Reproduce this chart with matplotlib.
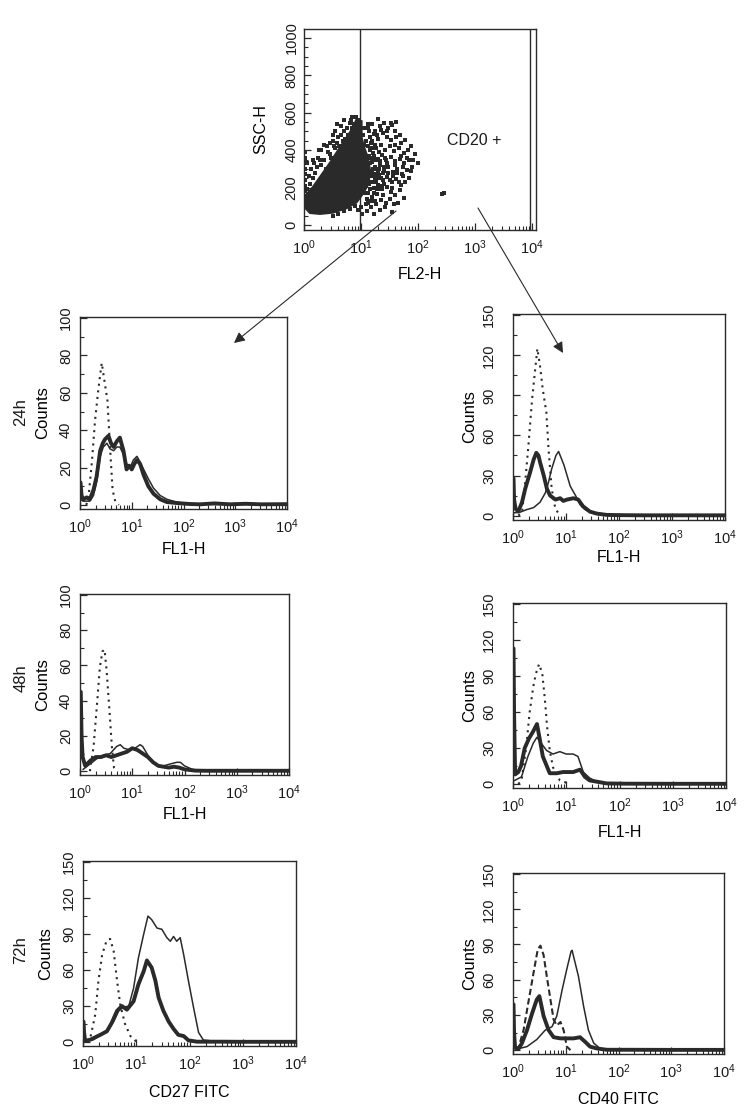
import numpy as np
import matplotlib
matplotlib.use("Agg")
import matplotlib.pyplot as plt
from matplotlib.ticker import FixedLocator, LogLocator, MultipleLocator, NullFormatter

plt.rcParams["font.family"] = ["Liberation Sans", "DejaVu Sans"]
plt.rcParams["mathtext.fontset"] = "custom"
plt.rcParams["mathtext.rm"] = "Liberation Sans"

INK = "#2a2a2a"
W, H = 748, 1113

# ---- dot plot SSC-H vs FL2-H (FL2 stored as log10) ----
core_x = [0.0, 0.105, 0.28, 0.51, 0.75, 0.92, 1.04, 1.13, 1.16, 1.12, 1.05, 1.01, 1.01, 0.92,
          0.86, 0.75, 0.62, 0.45, 0.3, 0.15, 0.0]
core_y = [98, 64, 59, 66, 90, 120, 170, 220, 290, 360, 420, 470, 555, 565,
          520, 470, 410, 330, 265, 200, 150]
halo = [(1.12, 520), (1.2, 540), (1.25, 505), (1.33, 530), (1.4, 545), (1.48, 520), (1.55, 535),
        (1.6, 505), (1.15, 470), (1.22, 485), (1.3, 460), (1.38, 490), (1.45, 470), (1.52, 455),
        (1.62, 470), (1.7, 440), (1.12, 420), (1.18, 440), (1.27, 410), (1.35, 430), (1.42, 400),
        (1.5, 420), (1.58, 395), (1.66, 410), (1.75, 385), (1.82, 400), (1.14, 370), (1.21, 385),
        (1.29, 355), (1.37, 375), (1.44, 345), (1.52, 365), (1.6, 340), (1.68, 355), (1.76, 330),
        (1.85, 345), (1.13, 320), (1.2, 335), (1.27, 300), (1.34, 320), (1.41, 290), (1.48, 310),
        (1.56, 285), (1.63, 300), (1.72, 275), (1.8, 295), (1.9, 310), (1.12, 270), (1.19, 285),
        (1.25, 250), (1.32, 265), (1.39, 240), (1.46, 255), (1.54, 230), (1.62, 245), (1.7, 215),
        (1.78, 230), (1.14, 220), (1.22, 200), (1.3, 215), (1.37, 190), (1.45, 205), (1.52, 175),
        (1.6, 160), (1.68, 185), (1.76, 145), (1.12, 170), (1.2, 150), (1.28, 165), (1.35, 135),
        (1.43, 120), (1.5, 140), (1.58, 110), (1.12, 120), (1.18, 95), (1.26, 110), (1.33, 80),
        (1.42, 95), (1.1, 75), (1.22, 60), (1.65, 120), (1.55, 70), (1.85, 250), (2.0, 330),
        (1.95, 380), (2.42, 165), (2.45, 170),
        (1.03, 480), (1.06, 430), (1.04, 390), (1.08, 350), (1.05, 320), (1.1, 300), (1.07, 260),
        (1.12, 240), (1.09, 210), (1.05, 170), (1.1, 140), (1.08, 110), (1.15, 190), (1.17, 260),
        (1.16, 330), (1.18, 360), (1.16, 400), (1.2, 450), (1.24, 430), (1.23, 370), (1.25, 310),
        (1.24, 270), (1.26, 230), (1.28, 190), (1.25, 130), (1.31, 390), (1.33, 340), (1.3, 280),
        (1.35, 250), (1.36, 210), (1.38, 160), (1.4, 310), (1.42, 360), (1.46, 330), (1.47, 280),
        (1.5, 240), (1.55, 200), (1.57, 260), (1.59, 320), (1.64, 280), (1.67, 230), (1.73, 310),
        (1.74, 260), (1.8, 360), (1.7, 370), (1.88, 290), (1.92, 350), (1.6, 425), (1.68, 480),
        (1.77, 455), (1.88, 420), (1.35, 510), (1.45, 500), (1.28, 480), (1.13, 540), (1.05, 520),
        (1.3, 565), (1.52, 545), (1.62, 550),
        (1.19, 230), (1.21, 300), (1.22, 350), (1.19, 410), (1.27, 345), (1.29, 250), (1.23, 170),
        (1.31, 300), (1.34, 190), (1.39, 280), (1.4, 220), (1.17, 130), (1.09, 450), (1.14, 500),
        (0.35, 350), (0.45, 380), (0.55, 410), (0.6, 470), (0.7, 500), (0.5, 450), (0.4, 420),
        (0.3, 320), (0.2, 280), (0.25, 360), (0.65, 530), (0.8, 545), (0.85, 520), (0.55, 500),
        (0.15, 250), (0.1, 220), (0.38, 300), (0.62, 420), (0.72, 460), (0.3, 400), (0.18, 330),
        (0.05, 190), (0.08, 260), (0.12, 300), (0.22, 310), (0.28, 350), (0.42, 390), (0.48, 360),
        (0.52, 420), (0.58, 440), (0.65, 480), (0.68, 450), (0.75, 520), (0.78, 480), (0.82, 560),
        (0.88, 540), (0.92, 575), (0.95, 560), (0.72, 400), (0.5, 480), (0.35, 430), (0.27, 400),
        (0.15, 350), (0.06, 330), (0.45, 440), (0.58, 540), (0.7, 560), (0.85, 580),
        (0.6, 60), (0.7, 75), (0.8, 85), (0.9, 100), (0.95, 80), (0.5, 50), (1.0, 95), (1.02, 60),
        (0.01, 150), (0.01, 180), (0.01, 210), (0.01, 240), (0.01, 270), (0.01, 300),
        (0.01, 330), (0.01, 360), (0.01, 390)]
dots_x = [p[0] for p in halo]
dots_y = [p[1] for p in halo]

# ---- histograms: (log10 FL1, counts) for isotype, thick and thin traces ----
tl_iso_x = [0.12, 0.16, 0.23, 0.29, 0.355, 0.42, 0.48, 0.53, 0.58, 0.63, 0.68, 0.75]
tl_iso_y = [0, 3, 23, 45, 62, 76, 65, 56, 31, 8, 2, 0]
tl_thick_x = [0, 0.01, 0.03, 0.065, 0.13, 0.19, 0.26, 0.32, 0.39, 0.44, 0.48, 0.55, 0.6, 0.65,
              0.71, 0.77, 0.84, 0.9, 0.95, 1.0, 1.05, 1.1, 1.16, 1.23, 1.32, 1.42, 1.55, 1.68,
              1.87, 2.1, 2.32, 2.6, 2.9, 3.2, 3.5, 4.0]
tl_thick_y = [12, 12, 5, 3, 4, 3, 8, 15, 29, 33, 35, 37, 33, 31, 34, 36, 29, 19, 21, 19,
              22, 24, 22, 16, 10, 6, 3, 1.5, 1, 0.5, 0.3, 0.8, 0.3, 0.6, 0.3, 0.4]
tl_thin_x = [0, 0.06, 0.19, 0.26, 0.32, 0.39, 0.45, 0.52, 0.58, 0.65, 0.71, 0.77, 0.84, 0.9,
             0.97, 1.03, 1.1, 1.16, 1.23, 1.32, 1.42, 1.55, 1.68, 1.87, 2.1, 2.5, 3.0, 3.5, 4.0]
tl_thin_y = [3, 2, 2, 5, 12, 26, 31, 33, 30, 29, 31, 31, 27, 22, 20, 24, 26, 23, 19, 14,
             9, 5, 3, 1.5, 0.5, 0.3, 0.2, 0.3, 0.2]

tr_iso_x = [0.1, 0.17, 0.23, 0.29, 0.36, 0.42, 0.46, 0.51, 0.56, 0.63, 0.67, 0.73, 0.8, 0.89]
tr_iso_y = [0, 2, 25, 52, 87, 110, 125, 112, 95, 77, 50, 20, 5, 0]
tr_thick_x = [0, 0.01, 0.02, 0.05, 0.1, 0.17, 0.23, 0.32, 0.39, 0.44, 0.48, 0.51, 0.58, 0.64,
              0.7, 0.8, 0.89, 0.95, 1.02, 1.14, 1.23, 1.32, 1.45, 1.58, 1.77, 2.1, 2.5, 3.0, 3.5, 4.0]
tr_thick_y = [28, 28, 12, 5, 3, 10, 20, 32, 42, 47, 45, 40, 30, 20, 15, 12, 13, 11, 12, 13,
              12, 7, 3, 1.5, 0.5, 0.3, 0.2, 0.2, 0.2, 0.2]
tr_thin_x = [0, 0.13, 0.26, 0.39, 0.51, 0.61, 0.67, 0.73, 0.81, 0.86, 0.9, 0.96, 1.02, 1.08,
             1.18, 1.27, 1.36, 1.48, 1.64, 1.95, 2.5, 3.0, 4.0]
tr_thin_y = [2, 2.5, 4.5, 6, 10, 17, 25, 35, 45, 48, 44, 38, 30, 22, 15, 8, 4.5, 2, 0.5, 0.3,
             0.2, 0.2, 0.2]

ml_iso_x = [0.19, 0.26, 0.32, 0.38, 0.43, 0.47, 0.51, 0.56, 0.61, 0.65, 0.7]
ml_iso_y = [0, 14, 36, 59, 68, 69, 57, 36, 14, 2, 0]
ml_thick_x = [0, 0.015, 0.03, 0.05, 0.1, 0.2, 0.3, 0.4, 0.5, 0.6, 0.7, 0.8, 0.9, 1.0, 1.1, 1.2,
              1.3, 1.4, 1.5, 1.6, 1.7, 1.8, 1.9, 2.0, 2.2, 2.4, 3.0, 4.0]
ml_thick_y = [45, 45, 20, 8, 3, 6, 8, 8, 9, 8, 9, 10, 11, 13, 12, 10, 8, 5, 3, 2.5, 2, 2.5, 2,
              1, 0.3, 0.2, 0.2, 0.2]
ml_thin_x = [0.06, 0.19, 0.32, 0.45, 0.58, 0.7, 0.77, 0.84, 0.96, 1.05, 1.15, 1.2, 1.34, 1.47,
             1.6, 1.72, 1.85, 1.92, 2.0, 2.15, 2.3, 3.0, 4.0]
ml_thin_y = [1, 4, 7, 9, 10, 14, 15, 13, 12, 13, 15, 14, 7, 3, 3, 4, 5, 5, 3, 1, 0.3, 0.2, 0.2]

mr_iso_x = [0.1, 0.16, 0.25, 0.31, 0.38, 0.43, 0.49, 0.55, 0.6, 0.64, 0.69, 0.75, 0.88, 1.07]
mr_iso_y = [0, 3, 31, 59, 81, 92, 100, 92, 70, 48, 28, 14, 3, 0]
mr_thick_x = [0, 0.01, 0.02, 0.04, 0.1, 0.15, 0.22, 0.3, 0.38, 0.45, 0.5, 0.56, 0.69, 0.82,
              0.94, 1.13, 1.26, 1.35, 1.44, 1.57, 1.76, 2.1, 3.0, 4.0]
mr_thick_y = [113, 113, 60, 8, 10, 15, 30, 38, 44, 50, 38, 23, 9, 9, 10, 10, 12, 6, 3, 2,
              0.5, 0.3, 0.2, 0.2]
mr_thin_x = [0.03, 0.16, 0.28, 0.38, 0.45, 0.53, 0.63, 0.75, 0.88, 1.0, 1.13, 1.22, 1.32, 1.44,
             1.57, 1.76, 2.2, 3.0, 4.0]
mr_thin_y = [3, 6, 23, 34, 39, 34, 28, 25, 27, 25, 25, 23, 10, 5, 2, 0.5, 0.3, 0.2, 0.2]

bl_iso_x = [0.08, 0.14, 0.23, 0.29, 0.36, 0.44, 0.51, 0.575, 0.64, 0.7, 0.79, 0.89, 1.01]
bl_iso_y = [0, 4, 23, 51, 73, 84, 86, 76, 51, 31, 15, 5, 0]
bl_thick_x = [0, 0.01, 0.02, 0.04, 0.14, 0.325, 0.45, 0.54, 0.64, 0.73, 0.825, 0.95, 1.04,
              1.14, 1.2, 1.23, 1.29, 1.36, 1.42, 1.51, 1.61, 1.7, 1.79, 1.89, 1.98, 2.14, 2.6,
              3.0, 4.0]
bl_thick_y = [17, 17, 8, 1, 2, 6, 9, 16, 26, 30, 27, 34, 48, 59, 68, 66, 62, 51, 37, 26, 17,
              11, 6, 5, 1.4, 0.3, 0.3, 0.2, 0.2]
bl_thin_x = [0.04, 0.2, 0.325, 0.45, 0.575, 0.67, 0.76, 0.86, 0.95, 1.04, 1.14, 1.22, 1.29,
             1.39, 1.48, 1.575, 1.64, 1.7, 1.76, 1.825, 1.89, 1.98, 2.075, 2.17, 2.26, 2.45,
             2.825, 3.3, 4.0]
bl_thin_y = [1, 2, 6, 9, 17, 26, 29, 30, 45, 70, 90, 105, 102, 95, 94, 87, 84, 88, 84, 87,
             73, 51, 29, 8, 1.7, 0.8, 0.3, 0.2, 0.2]

br_iso_x = [0.05, 0.11, 0.2, 0.3, 0.39, 0.47, 0.52, 0.58, 0.64, 0.71, 0.77, 0.83, 0.9, 0.96,
            1.02, 1.09]
br_iso_y = [0, 3, 17, 43, 66, 86, 89, 81, 63, 43, 26, 21, 24, 17, 3, 0]
br_thick_x = [0, 0.01, 0.02, 0.04, 0.11, 0.17, 0.265, 0.36, 0.45, 0.5, 0.58, 0.675, 0.77, 0.9,
              1.02, 1.15, 1.27, 1.37, 1.46, 1.59, 1.78, 2.2, 3.0, 4.0]
br_thick_y = [39, 39, 15, 2, 1.4, 6, 17, 31, 43, 46, 29, 17, 11, 10, 10, 10, 11, 7, 3, 1.4,
              0.3, 0.3, 0.2, 0.2]
br_thin_x = [0.08, 0.265, 0.45, 0.61, 0.74, 0.83, 0.93, 1.02, 1.1, 1.12, 1.18, 1.24, 1.34,
             1.43, 1.53, 1.65, 1.84, 2.3, 3.0, 4.0]
br_thin_y = [1, 3, 9, 17, 20, 29, 51, 69, 84, 85, 74, 63, 37, 17, 6, 1.4, 0.3, 0.2, 0.2, 0.2]

decades = [0, 1, 2, 3, 4]

fig = plt.figure(figsize=(W / 100, H / 100), dpi=100)


def box(l, r, t, b):
    return fig.add_axes([l / W, 1 - b / H, (r - l) / W, (b - t) / H])


def log_x(ax, xmax, labelsize=10.5):
    ax.set_xscale("log")
    ax.set_xlim(1, xmax)
    ax.xaxis.set_major_locator(FixedLocator([10.0 ** d for d in decades]))
    ax.set_xticklabels([r"$\mathregular{10^{%d}}$" % d for d in decades])
    ax.xaxis.set_minor_locator(LogLocator(base=10, subs=np.arange(2, 10), numticks=20))
    ax.xaxis.set_minor_formatter(NullFormatter())
    ax.tick_params(axis="x", labelsize=labelsize, pad=6)


def frame(ax):
    for s in ax.spines.values():
        s.set_linewidth(1.0)
        s.set_color(INK)
    ax.tick_params(which="both", direction="in", colors=INK, labelcolor="#1a1a1a")
    ax.tick_params(which="major", length=5, width=0.9)
    ax.tick_params(which="minor", length=3, width=0.8)
    ax.tick_params(axis="y", labelrotation=90, labelsize=10.5)


# dot plot
ax = box(304, 536, 29, 230)
frame(ax)
log_x(ax, 10 ** 4.07)
ax.set_ylim(-27, 1048)
ax.yaxis.set_major_locator(MultipleLocator(200))
ax.yaxis.set_minor_locator(MultipleLocator(50))
ax.tick_params(axis="y", pad=4)
for t in ax.get_yticklabels():
    t.set_va("center")
ax.fill(10 ** np.array(core_x), core_y, color=INK, lw=1.5, ec=INK)
ax.scatter(10 ** np.array(dots_x), dots_y, s=7, marker="s", color=INK, lw=0)
ax.axvline(10 ** 0.98, color=INK, lw=1.0)
ax.axvline(10 ** 3.96, color=INK, lw=1.0)
ax.text(10 ** 2.5, 450, "CD20 +", fontsize=11.5, va="center", color="#1a1a1a")
ax.set_xlabel("FL2-H", fontsize=11.5, va="top")
ax.set_ylabel("SSC-H", fontsize=11.5)
ax.xaxis.set_label_coords(0.5, -37 / 201)
ax.yaxis.set_label_coords(-36 / 232, 0.5)

panels = [
    # (l, r, t, b), ymax, step, iso, thick, thin, iso style, xlabel, y tick pad, xlabel gap
    ((80, 287, 317, 509), 100, 20, (tl_iso_x, tl_iso_y), (tl_thick_x, tl_thick_y),
     (tl_thin_x, tl_thin_y), (0, (1, 2.2)), "FL1-H", 5, 33),
    ((513, 725, 314, 520), 150, 30, (tr_iso_x, tr_iso_y), (tr_thick_x, tr_thick_y),
     (tr_thin_x, tr_thin_y), (0, (1, 2.2)), "FL1-H", 12, 30),
    ((80, 289, 594, 775), 100, 20, (ml_iso_x, ml_iso_y), (ml_thick_x, ml_thick_y),
     (ml_thin_x, ml_thin_y), (0, (1, 2.2)), "FL1-H", 5, 32),
    ((513, 726, 603, 788), 150, 30, (mr_iso_x, mr_iso_y), (mr_thick_x, mr_thick_y),
     (mr_thin_x, mr_thin_y), (0, (1, 2.2)), "FL1-H", 12, 37),
    ((83, 296, 861, 1046), 150, 30, (bl_iso_x, bl_iso_y), (bl_thick_x, bl_thick_y),
     (bl_thin_x, bl_thin_y), (0, (1, 2.2)), "CD27 FITC", 5, 39),
    ((513, 724, 873, 1054), 150, 30, (br_iso_x, br_iso_y), (br_thick_x, br_thick_y),
     (br_thin_x, br_thin_y), (0, (3, 1.6)), "CD40 FITC", 12, 38),
]

for (l, r, t, b), ymax, step, iso, thick, thin, isostyle, xlab, ypad, xgap in panels:
    ax = box(l, r, t, b)
    frame(ax)
    log_x(ax, 10 ** 4)
    ax.set_ylim(-ymax * 0.022, ymax * 1.006)
    ax.yaxis.set_major_locator(MultipleLocator(step))
    ax.yaxis.set_minor_locator(MultipleLocator(step / 2))
    ax.tick_params(axis="y", pad=ypad)
    for tl in ax.get_yticklabels():
        tl.set_va("center")
    ax.plot(10 ** np.array(iso[0]), iso[1], color=INK, lw=1.5, ls=isostyle)
    ax.plot(10 ** np.array(thin[0]), thin[1], color=INK, lw=1.1)
    ax.plot(10 ** np.array(thick[0]), thick[1], color=INK, lw=2.8)
    ax.set_xlabel(xlab, fontsize=11.5, va="top")
    ax.set_ylabel("Counts", fontsize=12)
    ax.xaxis.set_label_coords(0.5, -xgap / (b - t))
    ax.yaxis.set_label_coords(-(30 if l < 300 else 36) / (r - l), 0.5)

for txt, y in [("24h", 412), ("48h", 678), ("72h", 950)]:
    fig.text(21 / W, 1 - y / H, txt, rotation=90, ha="center", va="center", fontsize=12,
             color="#1a1a1a")

arrow = dict(arrowstyle="-|>", lw=0.8, color=INK, mutation_scale=16, shrinkA=0, shrinkB=0)
for (x0, y0), (x1, y1) in [((396, 211), (234, 343)), ((478, 208), (563, 353))]:
    fig.add_artist(matplotlib.patches.FancyArrowPatch(
        (x0 / W, 1 - y0 / H), (x1 / W, 1 - y1 / H), transform=fig.transFigure, **arrow))

fig.savefig("out.png", dpi=100, facecolor="white")
